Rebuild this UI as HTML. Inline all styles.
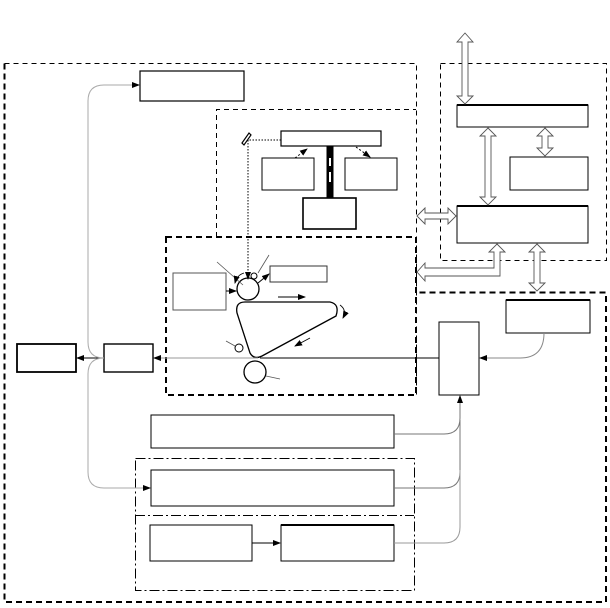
<!DOCTYPE html>
<html><head><style>html,body{margin:0;padding:0;background:#fff}svg{display:block}</style></head>
<body>
<svg width="610" height="608" viewBox="0 0 610 608" xmlns="http://www.w3.org/2000/svg">
<defs>
<marker id="a" markerWidth="8" markerHeight="6" refX="7" refY="3" orient="auto" markerUnits="userSpaceOnUse"><path d="M0,0 L8,3 L0,6 Z" fill="#000"/></marker>
</defs>
<g fill="none" stroke="#000">
<g shape-rendering="crispEdges">
<path d="M4.5,63.5 H416.5 V395" stroke-dasharray="5,4" stroke-width="1"/>
<path d="M4.5,63.5 V602 H606 V292.5 H416" stroke-dasharray="6,4" stroke-width="2"/>
<rect x="440.5" y="63.5" width="166" height="197" stroke-dasharray="5,4"/>
<path d="M216.5,237 V109.5 H416" stroke-dasharray="5,4"/>
<rect x="166" y="237" width="250" height="158" stroke-dasharray="6,4" stroke-width="2"/>
<rect x="135.5" y="458.5" width="279" height="132" stroke-dasharray="10,3,2,3"/>
<path d="M135,515.5 H414" stroke-dasharray="10,3,2,3"/>
</g>

<rect x="140" y="71" width="104" height="30" stroke-width="1.2"/>
<rect x="281" y="131" width="100" height="15" stroke-width="1.2"/>
<rect x="262" y="158" width="52" height="32"/>
<rect x="345" y="158" width="52" height="32"/>
<rect x="303" y="198" width="53" height="31" stroke-width="1.6"/>
<rect x="173" y="273" width="53" height="37" stroke="#555"/>
<rect x="270" y="266" width="57" height="16" stroke="#333"/>
<rect x="17" y="344" width="59" height="28" stroke-width="1.8"/>
<rect x="104" y="344" width="49" height="28" stroke-width="1.4"/>
<rect x="457" y="105" width="131" height="22"/>
<path d="M457,105 H588" stroke-width="2"/>
<rect x="510" y="157" width="78" height="33"/>
<rect x="457" y="206" width="131" height="37"/>
<path d="M457,206 H588" stroke-width="2"/>
<rect x="506" y="300" width="84" height="33"/>
<path d="M506,300 H590" stroke-width="2"/>
<rect x="439" y="322" width="40" height="73"/>
<rect x="151" y="415" width="243" height="33"/>
<rect x="151" y="470" width="243" height="36"/>
<rect x="150" y="525" width="102" height="36"/>
<rect x="281" y="525" width="113" height="36"/>
<path d="M281,525 H394" stroke-width="2"/>

<rect x="327" y="146" width="6" height="52" fill="#000"/>
<rect x="329" y="158" width="2" height="8" fill="#fff" stroke="none"/>
<rect x="329" y="172" width="2" height="10" fill="#fff" stroke="none"/>
<path d="M295,158 L307,149" stroke-dasharray="2,2" marker-end="url(#a)"/>
<path d="M356,147 L370,157" stroke-dasharray="2,2" marker-end="url(#a)"/>
<path d="M242,143 L249,133 L251,135 L244,145 Z" stroke-width="1.2"/>
<path d="M281,140 H249 M248,140 V279" stroke-dasharray="1.5,1.5" marker-end="url(#a)"/>

<circle cx="248" cy="289" r="11" stroke-width="1.3"/>
<circle cx="254" cy="276" r="3"/>
<circle cx="255" cy="372" r="11" stroke-width="1.3"/>
<circle cx="239" cy="348" r="4"/>
<path d="M245,302 H330 Q340,304 336,316 L262,356 Q254,360 250,353 L237,313 Q235,302 245,302 Z" stroke-width="1.3"/>
<path d="M226,291 H236" marker-end="url(#a)"/>
<path d="M258,283 L269,274" marker-end="url(#a)"/>
<path d="M217,262 L243,285 M269,255 L258,273 M226,341 L235,346 M266,376 L280,379" stroke="#555" stroke-width="0.8"/>
<path d="M244,273 Q237,275 235,283" stroke-width="0.8" marker-end="url(#a)"/>
<path d="M278,297 H305" marker-end="url(#a)"/>
<path d="M340,305 Q347,310 343,318" stroke-width="0.8" marker-end="url(#a)"/>
<path d="M310,338 L295,346" stroke-width="0.8" marker-end="url(#a)"/>

<path d="M439,358 H260" stroke-width="1"/>
<path d="M258,358 H154" stroke="#999" marker-end="url(#a)"/>
<path d="M104,358 H77" marker-end="url(#a)"/>
<path d="M104,358 Q88,358 88,342 V101 Q88,85 104,85 H139" stroke="#aaa" marker-end="url(#a)"/>
<path d="M104,358 Q88,358 88,374 V472 Q88,488 104,488 H150" stroke="#aaa" marker-end="url(#a)"/>
<path d="M394,434 H444 Q460,434 460,418 V396" stroke="#777" marker-end="url(#a)"/>
<path d="M394,488 H444 Q460,488 460,472 V420" stroke="#777"/>
<path d="M394,543 H444 Q460,543 460,527 V470" stroke="#999"/>
<path d="M544,333 Q544,358 520,358 H480" stroke="#888" marker-end="url(#a)"/>
<path d="M252,543 H280" marker-end="url(#a)"/>

<g stroke="#555" fill="#fff" stroke-width="0.9">
<path d="M465,33 L473,42 H468 V96 H473 L465,104 L457,96 H462 V42 H457 Z"/>
<path d="M488,128 L496,136 H491 V197 H496 L488,205 L480,197 H485 V136 H480 Z"/>
<path d="M545,128 L553,136 H548 V148 H553 L545,156 L537,148 H542 V136 H537 Z"/>
<path d="M417,216 L425,208 V213 H448 V208 L456,216 L448,224 V219 H425 V224 Z"/>
<path d="M497,244 L505,252 H500 V276 H425 V281 L417,272 L425,263 V268 H494 V252 H489 Z"/>
<path d="M537,244 L545,252 H540 V283 H545 L537,291 L529,283 H534 V252 H529 Z"/>
</g>
</g>
</svg>
</body></html>
